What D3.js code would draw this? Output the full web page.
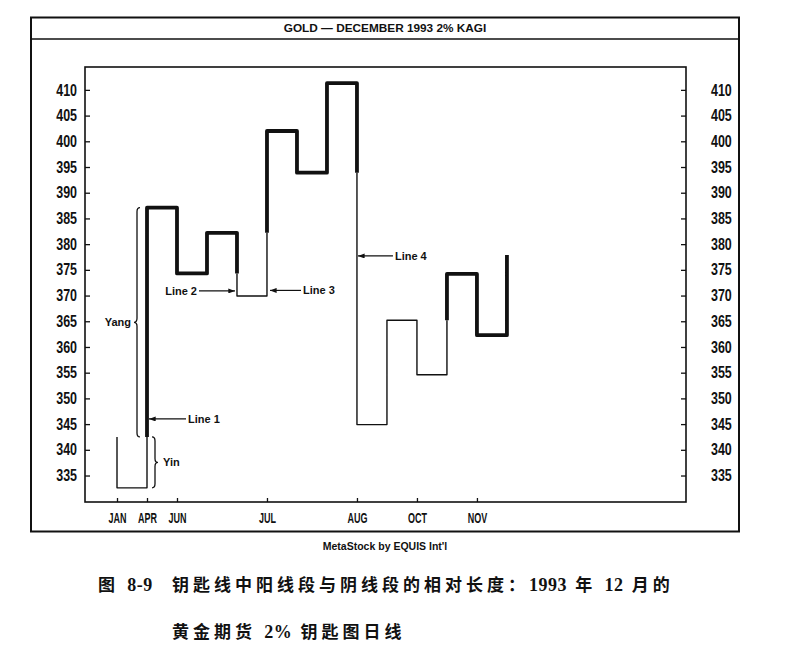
<!DOCTYPE html>
<html>
<head>
<meta charset="utf-8">
<script src="https://cdn.jsdelivr.net/npm/d3@7"></script>
<style>
  body { margin: 0; background: #fff; }
  .axis text { font-family: "Liberation Sans", Arial, sans-serif; font-weight: bold; font-size: 16px; fill: #111; }
  .axis line { stroke: #111; stroke-width: 1.3; }
  .note { font-family: "Liberation Sans", Arial, sans-serif; font-weight: bold; font-size: 11px; fill: #111; }
  .cap { font-family: "Liberation Serif", "Noto Sans CJK SC", serif; font-weight: bold; font-size: 17px; fill: #111; }
  .cjk { letter-spacing: 4px; }
  .num { letter-spacing: 0.5px; font-size: 18px; }
</style>
</head>
<body>
<svg id="chart" width="786" height="662"></svg>
<script>
var chartTitle = "GOLD \u2014 DECEMBER 1993 2% KAGI";
var footNote = "MetaStock by EQUIS Int'l";

var yTicks = [335, 340, 345, 350, 355, 360, 365, 370, 375, 380, 385, 390, 395, 400, 405, 410];
var monthLabels = ["JAN", "APR", "JUN", "JUL", "AUG", "OCT", "NOV"];
var monthCols = [0, 1, 2, 5, 8, 10, 12];

// kagi: first line starts at kagiStart, then one turning value per column
var kagiStart = 342.5;
var kagiTurns = [332.6, 387.1, 374.3, 382.2, 369.9, 402.0, 393.9, 411.3, 344.9, 365.2, 354.6, 374.2, 362.3, 377.9];

var lineLabels = ["Line 1", "Line 2", "Line 3", "Line 4"];
var lineCols = [1, 4, 5, 8];
var lineValues = [346.0, 370.9, 371.0, 377.7];

// caption pieces: [text, class]
var captionNo = [["图 ", "cjk"], ["8-9", "num"]];
var captionLine1 = [["钥匙线中阳线段与阴线段的相对长度：", "cjk"], ["1993", "num"], [" 年 ", "cjk"], ["12", "num"], [" 月的", "cjk"]];
var captionLine2 = [["黄金期货 ", "cjk"], ["2%", "num"], [" 钥匙图日线", "cjk"]];

var svg = d3.select("#chart");

var x = d3.scaleLinear().domain([-1.067, 18.97]).range([85, 686]);
var y = d3.scaleLinear().domain([329.85, 414.45]).range([502, 67]);

// frames
svg.append("rect")
    .attr("x", 31).attr("y", 17.5).attr("width", 708).attr("height", 514)
    .style("fill", "none").style("stroke", "#111").style("stroke-width", 2);
svg.append("line")
    .attr("x1", 31).attr("x2", 739).attr("y1", 39).attr("y2", 39)
    .style("stroke", "#111").style("stroke-width", 1.6);
svg.append("text")
    .attr("class", "note")
    .attr("x", 385).attr("y", 32)
    .attr("text-anchor", "middle")
    .style("font-size", "11.8px")
    .text(chartTitle);
svg.append("rect")
    .attr("x", 85).attr("y", 67).attr("width", 601).attr("height", 435)
    .style("fill", "none").style("stroke", "#111").style("stroke-width", 1.6);

// axes (labels squeezed to the narrow look of the original)
var digitSqueeze = 0.78, monthSqueeze = 0.6;
svg.append("g").attr("class", "axis")
    .attr("transform", "translate(85,0)")
    .call(d3.axisLeft(y).tickValues(yTicks).tickSize(-5).tickPadding(8))
    .call(function(g){
        g.select(".domain").remove();
        g.selectAll("text").attr("x", -8 / digitSqueeze).attr("transform", "scale(" + digitSqueeze + ",1)");
    });
svg.append("g").attr("class", "axis")
    .attr("transform", "translate(686,0)")
    .call(d3.axisRight(y).tickValues(yTicks).tickSize(-5).tickPadding(25))
    .call(function(g){
        g.select(".domain").remove();
        g.selectAll("text").attr("x", 25 / digitSqueeze).attr("transform", "scale(" + digitSqueeze + ",1)");
    });
svg.append("g").attr("class", "axis")
    .attr("transform", "translate(0,502)")
    .call(d3.axisBottom(x).tickValues(monthCols)
        .tickFormat(function(d, i){ return monthLabels[i]; })
        .tickSize(-4).tickPadding(10))
    .call(function(g){
        g.select(".domain").remove();
        g.selectAll("text").style("font-size", "15px").attr("transform", "scale(" + monthSqueeze + ",1)");
    });

// build kagi runs (thick = yang, thin = yin)
var runs = [];
var state = kagiTurns[0] < kagiStart ? "yin" : "yang";
var cur = { thick: state === "yang", pts: [[0, kagiStart]] };
function addPoint(c, v, thick){
    if (thick !== cur.thick) {
        runs.push(cur);
        cur = { thick: thick, pts: [cur.pts[cur.pts.length - 1]] };
    }
    cur.pts.push([c, v]);
}
var shoulder = Math.max(kagiStart, kagiTurns[0]);
var waist = Math.min(kagiStart, kagiTurns[0]);
addPoint(0, kagiTurns[0], state === "yang");
for (var i = 1; i < kagiTurns.length; i++) {
    var prev = kagiTurns[i - 1], v = kagiTurns[i];
    addPoint(i, prev, state === "yang");
    if (v > prev) {
        if (state === "yin" && v > shoulder) {
            addPoint(i, shoulder, false);
            state = "yang";
        }
        addPoint(i, v, state === "yang");
        shoulder = v;
    } else {
        if (state === "yang" && v < waist) {
            addPoint(i, waist, true);
            state = "yin";
        }
        addPoint(i, v, state === "yang");
        waist = v;
    }
}
runs.push(cur);

var kagiLine = d3.line()
    .x(function(d){ return x(d[0]); })
    .y(function(d){ return y(d[1]); });

svg.append("g").selectAll("path")
    .data(runs.filter(function(r){ return !r.thick; }).concat(runs.filter(function(r){ return r.thick; })))
    .enter().append("path")
    .attr("d", function(r){ return kagiLine(r.pts); })
    .style("fill", "none")
    .style("stroke", "#111")
    .style("stroke-width", function(r){ return r.thick ? 3.8 : 1.4; })
    .style("stroke-linejoin", "round")
    .style("stroke-linecap", "butt");

// arrows with labels
svg.append("defs").append("marker")
    .attr("id", "head")
    .attr("viewBox", "0 0 8 6")
    .attr("refX", 8).attr("refY", 3)
    .attr("markerWidth", 7).attr("markerHeight", 5)
    .attr("markerUnits", "userSpaceOnUse")
    .attr("orient", "auto")
    .append("path").attr("d", "M0,0 L8,3 L0,6 Z").style("fill", "#111");

var arrowSide = [1, -1, 1, 1];
var arrowGap = [2, 2, 3, 1];
var arrowLen = [37, 36, 31, 35];
lineLabels.forEach(function(label, k){
    var s = arrowSide[k];
    var tipX = x(lineCols[k]) + s * arrowGap[k];
    var tailX = tipX + s * arrowLen[k];
    var yy = y(lineValues[k]);
    svg.append("line")
        .attr("x1", tailX).attr("x2", tipX).attr("y1", yy).attr("y2", yy)
        .style("stroke", "#111").style("stroke-width", 1.2)
        .attr("marker-end", "url(#head)");
    svg.append("text")
        .attr("class", "note")
        .attr("x", tailX + s * 2).attr("y", yy + 4)
        .attr("text-anchor", s > 0 ? "start" : "end")
        .text(label);
});

// yin / yang braces
function brace(bx, y1, y2, dir){
    var ym = (y1 + y2) / 2, r = 3 * dir;
    return "M" + (bx - r) + "," + y1 +
        " Q" + bx + "," + y1 + " " + bx + "," + (y1 + 4) +
        " L" + bx + "," + (ym - 4) +
        " Q" + bx + "," + ym + " " + (bx + r) + "," + ym +
        " Q" + bx + "," + ym + " " + bx + "," + (ym + 4) +
        " L" + bx + "," + (y2 - 4) +
        " Q" + bx + "," + y2 + " " + (bx - r) + "," + y2;
}
var yangTop = kagiTurns[1], yangBottom = kagiStart;
svg.append("path")
    .attr("d", brace(x(1) - 10, y(yangTop), y(yangBottom), -1))
    .style("fill", "none").style("stroke", "#111").style("stroke-width", 1.3);
svg.append("text").attr("class", "note")
    .attr("x", x(1) - 16).attr("y", y((yangTop + yangBottom) / 2) + 4)
    .attr("text-anchor", "end").text("Yang");

svg.append("path")
    .attr("d", brace(x(1) + 8, y(kagiStart), y(kagiTurns[0]), 1))
    .style("fill", "none").style("stroke", "#111").style("stroke-width", 1.3);
svg.append("text").attr("class", "note")
    .attr("x", x(1) + 16).attr("y", y((kagiStart + kagiTurns[0]) / 2) + 4)
    .text("Yin");

// footer and caption
svg.append("text").attr("class", "note")
    .attr("x", 385).attr("y", 550)
    .attr("text-anchor", "middle")
    .style("font-size", "10.5px")
    .text(footNote);

function caption(parts, cx, cy){
    var t = svg.append("text").attr("class", "cap").attr("x", cx).attr("y", cy);
    t.selectAll("tspan").data(parts).enter().append("tspan")
        .attr("class", function(d){ return d[1]; })
        .text(function(d){ return d[0]; });
}
caption(captionNo, 98, 591);
caption(captionLine1, 172, 591);
caption(captionLine2, 172, 638);
</script>
</body>
</html>
